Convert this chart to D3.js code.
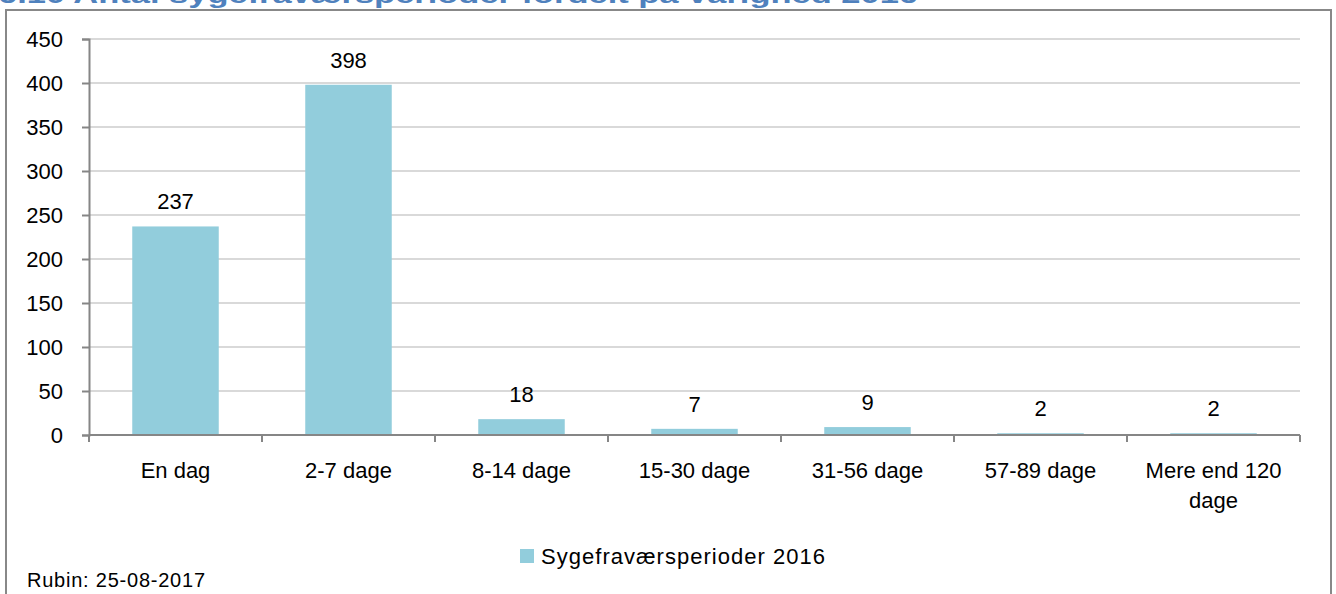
<!DOCTYPE html>
<html><head><meta charset="utf-8">
<script src="https://cdn.jsdelivr.net/npm/d3@7"></script>
<style>body{margin:0;background:#fff}svg{display:block;font-family:Arial,"Liberation Sans",sans-serif}</style>
</head><body>
<svg id="c" width="1336" height="594"></svg>
<script>
const categories = ["En dag","2-7 dage","8-14 dage","15-30 dage","31-56 dage","57-89 dage","Mere end 120 dage"];
const values = [237,398,18,7,9,2,2];
const yTicks = [0,50,100,150,200,250,300,350,400,450];
const seriesName = "Sygefraværsperioder 2016";
const titleText = "6.10 Antal sygefraværsperioder fordelt på varighed 2016";
const sourceText = "Rubin: 25-08-2017";

const FONT = "Arial, 'Liberation Sans', sans-serif";
const svg = d3.select("#c");
const m = {l:89, r:1300, t:39, b:435};

// frame
svg.append("rect").attr("x",6).attr("y",10).attr("width",1325).attr("height",600)
  .attr("fill","#fff").attr("stroke","#888").attr("stroke-width",2);

// title (cut off at top, as in the original)
svg.append("text").attr("x",-2).attr("y",3).attr("fill","#4F81BD")
  .attr("font-weight","bold").attr("font-size",24)
  .attr("textLength",920).attr("lengthAdjust","spacingAndGlyphs").text(titleText);

const x = d3.scaleBand().domain(categories).range([m.l,m.r]).paddingInner(0.5).paddingOuter(0.25);
const xb = d3.scaleBand().domain(categories).range([m.l,m.r]);
const y = d3.scaleLinear().domain([0,450]).range([m.b,m.t]);

// gridlines
svg.append("g").selectAll("line").data(yTicks.filter(d=>d>0)).join("line")
  .attr("x1",m.l).attr("x2",m.r).attr("y1",d=>y(d)).attr("y2",d=>y(d))
  .attr("stroke","#d9d9d9").attr("stroke-width",2);

// bars
svg.append("g").selectAll("rect").data(values).join("rect")
  .attr("x",(d,i)=>x(categories[i])).attr("width",x.bandwidth())
  .attr("y",d=>y(d)).attr("height",d=>y(0)-y(d)).attr("fill","#92CDDC");

// value labels
svg.append("g").selectAll("text").data(values).join("text")
  .attr("x",(d,i)=>x(categories[i])+x.bandwidth()/2).attr("y",d=>y(d)-17)
  .attr("text-anchor","middle").attr("font-size",22).attr("font-family",FONT).attr("fill","#000").text(d=>d);

// y axis
const yAxis = d3.axisLeft(y).tickValues(yTicks).tickSize(7).tickPadding(19);
const gy = svg.append("g").attr("transform",`translate(${m.l},0)`).call(yAxis);
gy.attr("font-size",22).attr("font-family",FONT);
gy.select(".domain").attr("stroke","#868686").attr("stroke-width",2);
gy.selectAll(".tick line").attr("stroke","#868686").attr("stroke-width",2);
gy.selectAll(".tick text").attr("font-size",22).attr("fill","#000").attr("dy","0.36em");

// x axis
const gx = svg.append("g").attr("transform",`translate(0,${m.b})`);
gx.append("line").attr("x1",m.l).attr("x2",m.r).attr("stroke","#868686").attr("stroke-width",2);
const tickPos = categories.map(c=>xb(c)).concat([m.r]);
gx.selectAll("line.t").data(tickPos).join("line").attr("class","t")
  .attr("x1",d=>d).attr("x2",d=>d).attr("y1",0).attr("y2",7).attr("stroke","#868686").attr("stroke-width",2);
gx.selectAll("text").data(categories).join("text")
  .attr("text-anchor","middle").attr("font-size",22).attr("font-family",FONT).attr("fill","#000")
  .each(function(c){
    const t = d3.select(this);
    const cx = xb(c)+xb.bandwidth()/2;
    const lines = c==="Mere end 120 dage" ? ["Mere end 120","dage"] : [c];
    lines.forEach((ln,i)=>t.append("tspan").attr("x",cx).attr("y",43+i*30).text(ln));
  });

// legend
svg.append("rect").attr("x",520).attr("y",549).attr("width",14).attr("height",14).attr("fill","#92CDDC");
svg.append("text").attr("x",541).attr("y",564).attr("font-size",22).attr("font-family",FONT).attr("fill","#000")
  .attr("textLength",284).attr("lengthAdjust","spacing").text(seriesName);

// source
svg.append("text").attr("x",27).attr("y",587).attr("font-size",20).attr("font-family",FONT).attr("fill","#000")
  .attr("textLength",178).attr("lengthAdjust","spacing").text(sourceText);
</script>
</body></html>
